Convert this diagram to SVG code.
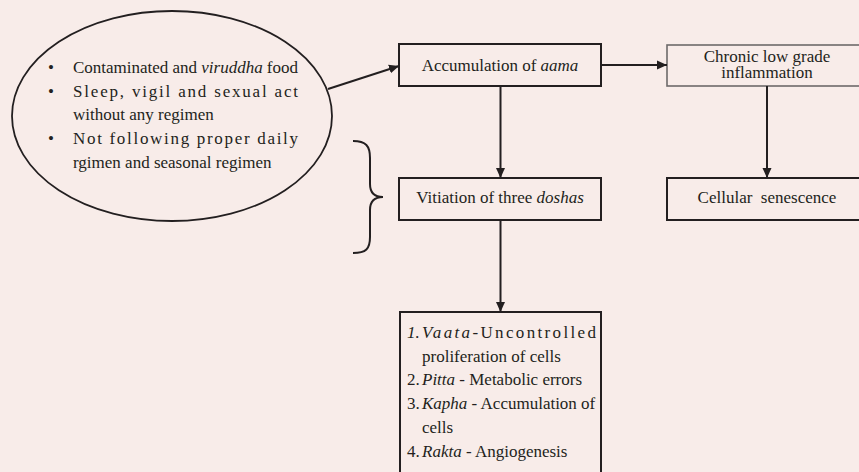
<svg xmlns="http://www.w3.org/2000/svg" width="859" height="472" viewBox="0 0 859 472">
<defs>
<style>
.it{font-style:italic}
.box{fill:none;stroke:#231f20;stroke-width:2}
.grey{fill:none;stroke:#6d6a6a;stroke-width:1.6}
.ln{fill:none;stroke:#231f20;stroke-width:2}
</style>
<marker id="ah" viewBox="0 0 10 10" refX="10" refY="5" markerWidth="10" markerHeight="10" markerUnits="userSpaceOnUse" orient="auto">
<path d="M0,0.5 L10,5 L0,9.5 Z" fill="#231f20"/>
</marker>
</defs>
<rect width="859" height="472" fill="#f8ece9"/>

<g id="causes">
<ellipse cx="172" cy="116" rx="160" ry="105" fill="none" stroke="#231f20" stroke-width="1.8"/>
<text font-family="Liberation Serif" font-size="17" fill="#231f20" x="48" y="73">•</text>
<text font-family="Liberation Serif" font-size="17" fill="#231f20" x="73" y="73" textLength="225" lengthAdjust="spacing">Contaminated and <tspan class="it">viruddha</tspan> food</text>
<text font-family="Liberation Serif" font-size="17" fill="#231f20" x="48" y="97">•</text>
<text font-family="Liberation Serif" font-size="17" fill="#231f20" x="73" y="97" textLength="225" lengthAdjust="spacing">Sleep, vigil and sexual act</text>
<text font-family="Liberation Serif" font-size="17" fill="#231f20" x="73" y="120">without any regimen</text>
<text font-family="Liberation Serif" font-size="17" fill="#231f20" x="48" y="144">•</text>
<text font-family="Liberation Serif" font-size="17" fill="#231f20" x="73" y="144" textLength="225" lengthAdjust="spacing">Not following proper daily</text>
<text font-family="Liberation Serif" font-size="17" fill="#231f20" x="73" y="168">rgimen and seasonal regimen</text>
</g>

<g id="brace">
<path d="M353,141 C366,141 370,146 370,158 L370,184 C370,193 374,197 383,197 C374,197 370,201 370,210 L370,237 C370,249 366,253 353,253" fill="none" stroke="#231f20" stroke-width="2"/>
</g>

<g id="aama">
<rect class="box" x="399" y="44" width="202" height="42"/>
<text font-family="Liberation Serif" font-size="17" fill="#231f20" text-anchor="middle" x="500" y="71">Accumulation of <tspan class="it">aama</tspan></text>
</g>

<g id="inflammation">
<rect class="grey" x="667" y="45" width="210" height="41"/>
<text font-family="Liberation Serif" font-size="17" fill="#231f20" text-anchor="middle" x="767" y="62">Chronic low grade</text>
<text font-family="Liberation Serif" font-size="17" fill="#231f20" text-anchor="middle" x="767" y="78">inflammation</text>
</g>

<g id="doshas">
<rect class="box" x="399" y="178" width="202" height="42"/>
<text font-family="Liberation Serif" font-size="17" fill="#231f20" text-anchor="middle" x="500" y="203">Vitiation of three <tspan class="it">doshas</tspan></text>
</g>

<g id="senescence">
<rect class="box" x="667" y="178" width="210" height="42"/>
<text font-family="Liberation Serif" font-size="17" fill="#231f20" text-anchor="middle" x="767" y="203" xml:space="preserve">Cellular  senescence</text>
</g>

<g id="effects">
<rect class="box" x="400" y="312" width="201" height="180"/>
<text font-family="Liberation Serif" font-size="17" fill="#231f20" x="407" y="338" class="it">1.</text>
<text font-family="Liberation Serif" font-size="17" fill="#231f20" x="422" y="338" textLength="174" lengthAdjust="spacing"><tspan class="it">Vaata</tspan>-Uncontrolled</text>
<text font-family="Liberation Serif" font-size="17" fill="#231f20" x="422" y="362">proliferation of cells</text>
<text font-family="Liberation Serif" font-size="17" fill="#231f20" x="407" y="385">2.</text>
<text font-family="Liberation Serif" font-size="17" fill="#231f20" x="422" y="385"><tspan class="it">Pitta</tspan> - Metabolic errors</text>
<text font-family="Liberation Serif" font-size="17" fill="#231f20" x="407" y="409">3.</text>
<text font-family="Liberation Serif" font-size="17" fill="#231f20" x="422" y="409"><tspan class="it">Kapha</tspan> - Accumulation of</text>
<text font-family="Liberation Serif" font-size="17" fill="#231f20" x="422" y="433">cells</text>
<text font-family="Liberation Serif" font-size="17" fill="#231f20" x="407" y="457">4.</text>
<text font-family="Liberation Serif" font-size="17" fill="#231f20" x="422" y="457"><tspan class="it">Rakta</tspan> - Angiogenesis</text>
</g>

<g id="connectors">
<line class="ln" x1="328" y1="89" x2="399" y2="66" marker-end="url(#ah)"/>
<line class="ln" x1="601" y1="65" x2="667" y2="65" marker-end="url(#ah)"/>
<line class="ln" x1="500.5" y1="86" x2="500.5" y2="178" marker-end="url(#ah)"/>
<line class="ln" x1="767" y1="86" x2="767" y2="178" marker-end="url(#ah)"/>
<line class="ln" x1="500.5" y1="220" x2="500.5" y2="312" marker-end="url(#ah)"/>
</g>
</svg>
